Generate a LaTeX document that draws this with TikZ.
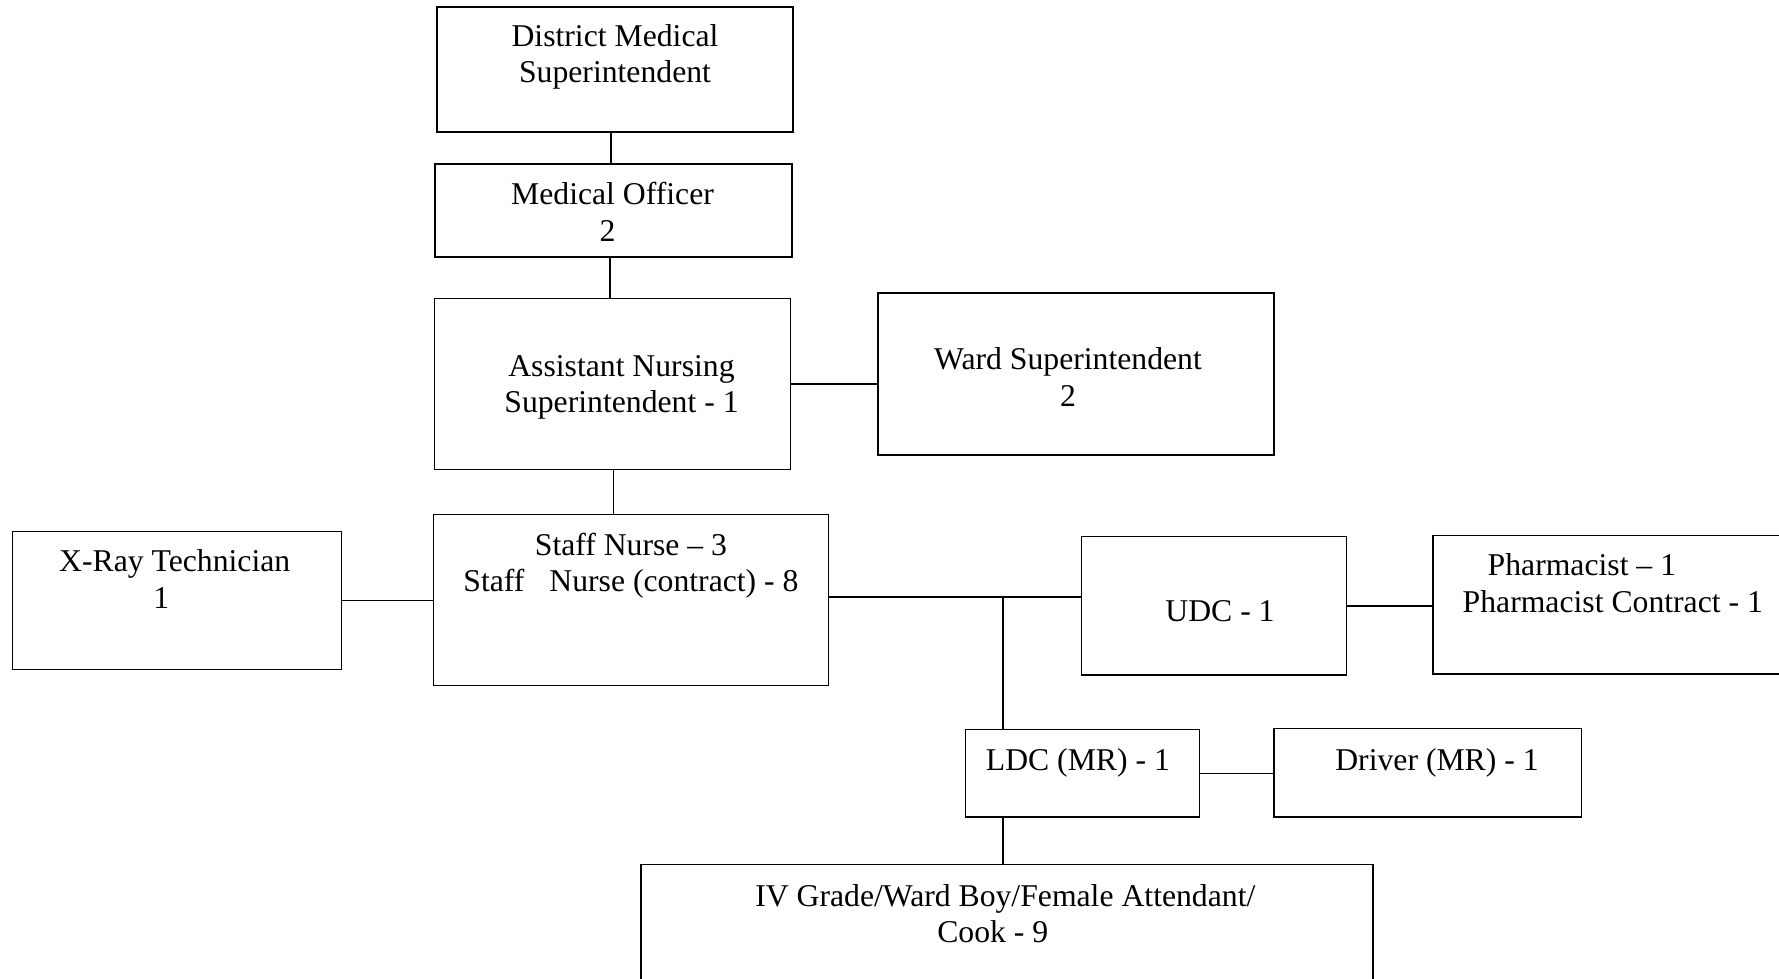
\documentclass[tikz,border=0pt]{standalone}
\usepackage{fontspec}
\setmainfont{Liberation Serif}
\begin{document}
\begin{tikzpicture}[x=1pt,y=-1pt,
  box/.style={draw=black, line width=1.4pt, inner sep=0pt, outer sep=0pt},
  txt/.style={inner sep=0pt, align=center, font=\fontsize{31.7}{36.3}\selectfont},
  link/.style={draw=black, line width=1.4pt}]
\useasboundingbox (0,0) rectangle (1779,979);
\clip (0,0) rectangle (1779,979);
% boxes
\node[box, minimum width=356, minimum height=125] (dms) at (615,69.5) {};
\node[box, minimum width=357, minimum height=93] (mo) at (613.5,210.5) {};
\node[box, minimum width=356, minimum height=171] (ans) at (612.7,384) {};
\node[box, minimum width=396, minimum height=162] (ws) at (1076,374) {};
\node[box, minimum width=395, minimum height=171] (sn) at (630.9,599.7) {};
\node[box, minimum width=329, minimum height=138] (xr) at (177,600.2) {};
\node[box, minimum width=265.5, minimum height=138.4] (udc) at (1214,605.9) {};
\node[box, minimum width=367, minimum height=138.5] (ph) at (1616.5,604.8) {};
\node[box, minimum width=234, minimum height=87.5] (ldc) at (1082.4,773.3) {};
\node[box, minimum width=307.6, minimum height=88.6] (drv) at (1427.8,772.7) {};
\node[box, minimum width=732, minimum height=145.4] (iv) at (1007,937.3) {};
% texts
\node[txt] (dmsT) at (615,57.5) {\strut District Medical\\\strut Superintendent};
\node[txt] (moT) at (612.5,215.7) {\strut Medical Officer\\\strut 2\hspace*{10pt}};
\node[txt] (ansT) at (621.5,387) {\strut Assistant Nursing\\\strut Superintendent - 1};
\node[txt] (wsT) at (1068,380.8) {\strut Ward Superintendent\\\strut 2};
\node[txt] (snT) at (631,566.3) {\strut Staff Nurse – 3\\\strut Staff\hspace{17pt} Nurse (contract) - 8};
\node[txt] (xrT) at (174.7,582.8) {\strut X-Ray Technician\\\strut 1\hspace*{27pt}};
\node[txt] (udcT) at (1220,614.5) {\strut UDC - 1};
\node[txt, align=left, anchor=west] (phT) at (1462.5,586.8) {\strut\hspace*{25pt}Pharmacist – 1\\\strut Pharmacist Contract - 1};
\node[txt] (ldcT) at (1077.9,763.2) {\strut LDC (MR) - 1};
\node[txt] (drvT) at (1437,763.2) {\strut Driver (MR) - 1};
\node[txt] (ivT) at (1005.3,916.9) {\strut IV Grade/Ward Boy/Female Attendant/\\\strut Cook - 9\hspace*{25pt}};
% connectors
\coordinate (xa) at (611,0);
\coordinate (xb) at (610,0);
\coordinate (j) at (1003,596.8);
\draw[link] (dms.south -| xa) -- (mo.north -| xa);
\draw[link] (mo.south -| xb) -- (ans.north -| xb);
\draw[link] (ans.east) -- (ans.east -| ws.west);
\draw[link] ([xshift=1pt]ans.south) -- ([xshift=1pt]ans.south |- sn.north);
\draw[link] (xr.east) -- (xr.east -| sn.west);
\draw[link] (sn.east |- j) -- (udc.west |- j);
\draw[link] (j) -- (j |- ldc.north);
\draw[link] (udc.east) -- (udc.east -| ph.west);
\draw[link] (ldc.east) -- (ldc.east -| drv.west);
\draw[link] (ldc.south -| j) -- (iv.north -| j);
\end{tikzpicture}
\end{document}
